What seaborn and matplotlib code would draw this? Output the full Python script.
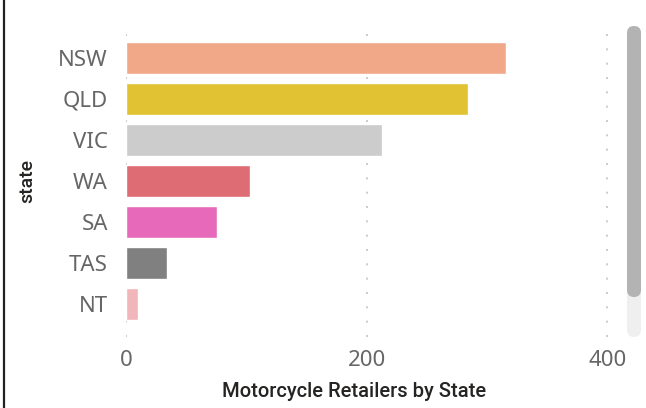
import matplotlib
matplotlib.use("Agg")
import matplotlib.pyplot as plt
import seaborn as sns
from matplotlib.patches import FancyBboxPatch
from matplotlib.lines import Line2D

states = ["NSW", "QLD", "VIC", "WA", "SA", "TAS", "NT"]
retailers = [316, 284, 213, 103, 76, 34, 10]
colors = ["#F0A888", "#E0C232", "#CCCCCC", "#DE6C74", "#E66AB9", "#808080", "#F0B6BA"]
xticks = [0, 200, 400]

sns.set_style("white")
plt.rcParams["font.family"] = ["Noto Sans", "DejaVu Sans"]

fig = plt.figure(figsize=(6.46, 4.08), dpi=100)
ax = fig.add_axes([126 / 646, 71 / 408, 486 / 646, 312 / 408])

sns.barplot(x=retailers, y=states, hue=states, palette=colors, orient="h",
            width=0.78, legend=False, ax=ax, saturation=1)

ax.set_xlim(0, 404)
ax.set_ylim(6.8, -0.8)
ax.set_xticks(xticks)
ax.xaxis.grid(True, color="#c4c4c4", linestyle=(0, (1.2, 7.4)), linewidth=1.2)
ax.yaxis.grid(False)
ax.set_axisbelow(True)
for s in ax.spines.values():
    s.set_visible(False)

ax.tick_params(axis="y", length=0, pad=13, labelsize=16, labelcolor="#666666")
ax.tick_params(axis="x", length=0, pad=9, labelsize=16, labelcolor="#666666")

ax.set_xlabel("Motorcycle Retailers by State", fontsize=14.5, color="#252423",
              fontfamily=["Roboto", "DejaVu Sans"], fontweight="medium")
ax.xaxis.set_label_coords((354 - 126) / 486, -0.145)
ax.set_ylabel("state", fontsize=14, color="#252423",
              fontfamily=["Roboto", "DejaVu Sans"], fontweight="medium")
ax.yaxis.set_label_coords((36 - 126) / 486, 0.5)

# scrollbar
track = FancyBboxPatch((627 / 646, (408 - 337) / 408), 14 / 646, (337 - 26) / 408,
                       boxstyle="round,pad=0,rounding_size=0.011",
                       transform=fig.transFigure, facecolor="#efefef",
                       edgecolor="none", mutation_aspect=646 / 408)
thumb = FancyBboxPatch((627 / 646, (408 - 297) / 408), 14 / 646, (297 - 26) / 408,
                       boxstyle="round,pad=0,rounding_size=0.011",
                       transform=fig.transFigure, facecolor="#b3b3b3",
                       edgecolor="none", mutation_aspect=646 / 408)
fig.patches.extend([track, thumb])

# left border
fig.lines.append(Line2D([3.5 / 646, 3.5 / 646], [0, 1], transform=fig.transFigure,
                        color="#222222", linewidth=1.6))

fig.savefig("out.png", dpi=100)
